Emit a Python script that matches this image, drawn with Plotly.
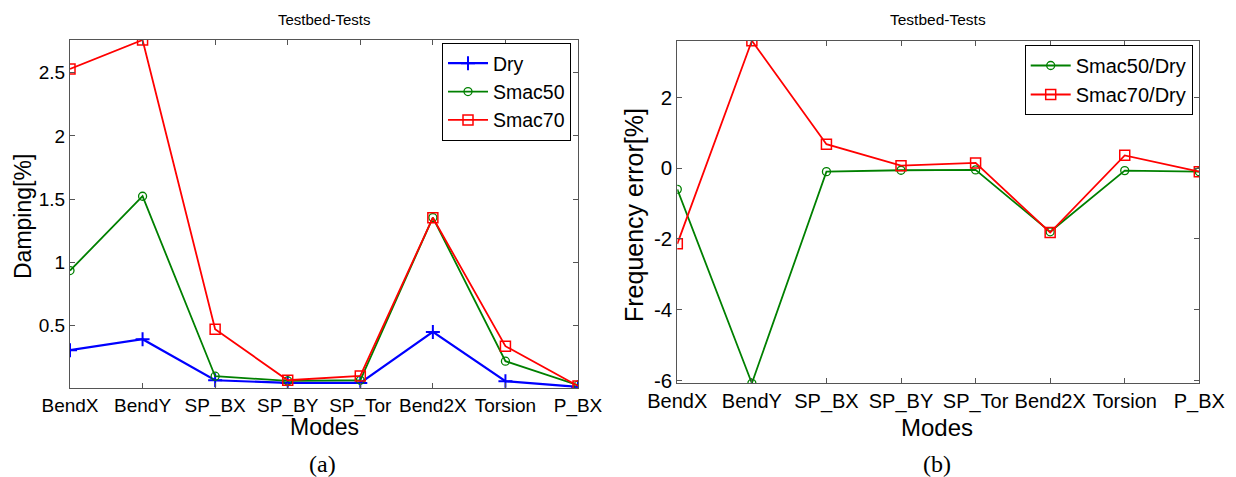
import plotly.graph_objects as go

modes = ["BendX", "BendY", "SP_BX", "SP_BY", "SP_Tor", "Bend2X", "Torsion", "P_BX"]
x_pos = [1, 2, 3, 4, 5, 6, 7, 8]

damping_dry = [0.302, 0.389, 0.064, 0.043, 0.043, 0.447, 0.056, 0.011]
damping_smac50 = [0.933, 1.522, 0.096, 0.059, 0.064, 1.353, 0.215, 0.025]
damping_smac70 = [2.531, 2.76, 0.468, 0.064, 0.098, 1.352, 0.334, 0.019]

freq_smac50 = [-0.60, -6.08, -0.10, -0.06, -0.05, -1.80, -0.07, -0.10]
freq_smac70 = [-2.14, 3.60, 0.675, 0.07, 0.147, -1.82, 0.36, -0.10]

left_yticks = [0.5, 1, 1.5, 2, 2.5]
left_yticklabels = ["0.5", "1", "1.5", "2", "2.5"]
right_yticks = [-6, -4, -2, 0, 2]
right_yticklabels = ["-6", "-4", "-2", "0", "2"]

# page body has an 8px margin; size the figure to fit the window exactly
OFF = 8
W, H = 1236 - OFF, 477 - OFF
SANS = "Liberation Sans, Arial, sans-serif"
SERIF = "Liberation Serif, Times New Roman, serif"
AX = "#555555"

fig = go.Figure()

def fx(px):
    return (px - OFF) / W

def fy(py):
    return 1 - (py - OFF) / H

fig.add_trace(go.Scatter(x=x_pos, y=damping_dry, name="Dry", mode="lines+markers",
                         line=dict(color="#0000FF", width=2.2),
                         marker=dict(symbol="cross-thin", size=10, line=dict(color="#0000FF", width=2)),
                         xaxis="x", yaxis="y", legend="legend"))
fig.add_trace(go.Scatter(x=x_pos, y=damping_smac50, name="Smac50", mode="lines+markers",
                         line=dict(color="#008000", width=1.8),
                         marker=dict(symbol="circle-open", size=8, line=dict(color="#008000", width=1.3)),
                         xaxis="x", yaxis="y", legend="legend"))
fig.add_trace(go.Scatter(x=x_pos, y=damping_smac70, name="Smac70", mode="lines+markers",
                         line=dict(color="#FF0000", width=1.8),
                         marker=dict(symbol="square-open", size=10, line=dict(color="#FF0000", width=1.5)),
                         xaxis="x", yaxis="y", legend="legend"))

fig.add_trace(go.Scatter(x=x_pos, y=freq_smac50, name="Smac50/Dry", mode="lines+markers",
                         line=dict(color="#008000", width=1.8),
                         marker=dict(symbol="circle-open", size=8, line=dict(color="#008000", width=1.3)),
                         xaxis="x2", yaxis="y2", legend="legend2"))
fig.add_trace(go.Scatter(x=x_pos, y=freq_smac70, name="Smac70/Dry", mode="lines+markers",
                         line=dict(color="#FF0000", width=1.8),
                         marker=dict(symbol="square-open", size=10, line=dict(color="#FF0000", width=1.5)),
                         xaxis="x2", yaxis="y2", legend="legend2"))

def axis_style(fs):
    return dict(showline=True, linecolor=AX, linewidth=1, mirror="ticks",
                ticks="inside", ticklen=5, tickcolor=AX, tickwidth=1,
                showgrid=False, zeroline=False, automargin=False,
                tickfont=dict(family=SANS, size=fs, color="black"))

fig.update_layout(
    width=W, height=H,
    margin=dict(l=0, r=0, t=0, b=0, autoexpand=False),
    paper_bgcolor="white", plot_bgcolor="white",
    xaxis=dict(domain=[fx(70), fx(578)], anchor="y", range=[1, 8],
               tickvals=x_pos, ticktext=modes, **axis_style(19)),
    yaxis=dict(domain=[fy(387.7), fy(40)], anchor="x", range=[0.005, 2.76],
               tickvals=left_yticks, ticktext=left_yticklabels, **axis_style(19)),
    xaxis2=dict(domain=[fx(677.3), fx(1199.3)], anchor="y2", range=[1, 8],
                tickvals=x_pos, ticktext=modes, **axis_style(20)),
    yaxis2=dict(domain=[fy(383.3), fy(40.7)], anchor="x2", range=[-6.08, 3.6],
                tickvals=right_yticks, ticktext=right_yticklabels, **axis_style(20.5)),
    legend=dict(x=fx(571), y=fy(43), xanchor="right", yanchor="top",
                bgcolor="white", bordercolor="black", borderwidth=1, itemwidth=40,
                font=dict(family=SANS, size=19.5, color="black"), tracegroupgap=0),
    legend2=dict(x=fx(1192.7), y=fy(45), xanchor="right", yanchor="top",
                 bgcolor="white", bordercolor="black", borderwidth=1, itemwidth=40,
                 font=dict(family=SANS, size=20, color="black"), tracegroupgap=0),
    showlegend=True,
)

def ann(text, x, y, size, family=SANS, angle=0):
    fig.add_annotation(text=text, x=fx(x), y=fy(y), xref="paper", yref="paper",
                       showarrow=False, xanchor="center", yanchor="middle",
                       textangle=angle, font=dict(family=family, size=size, color="black"))

ann("Testbed-Tests", 324, 19, 15)
ann("Testbed-Tests", 938, 19, 15.5)
ann("Damping[%]", 23, 217, 23, angle=-90)
ann("Frequency error[%]", 634, 215, 25, angle=-90)
ann("Modes", 324, 427, 23)
ann("Modes", 937, 427, 24)
ann("(a)", 322, 464, 24, family=SERIF)
ann("(b)", 937, 464, 24, family=SERIF)

fig.write_html("out.html")
